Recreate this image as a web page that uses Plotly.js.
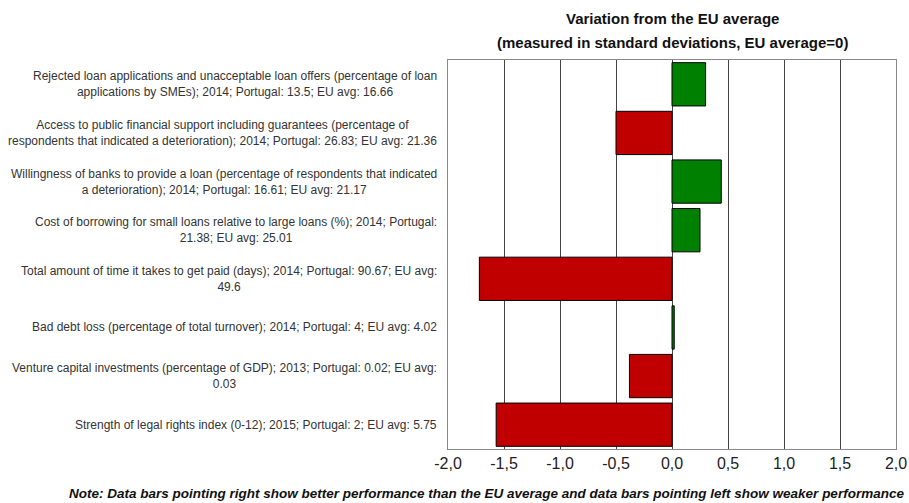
<!DOCTYPE html>
<html>
<head>
<meta charset="utf-8">
<script src="https://cdn.plot.ly/plotly-3.0.1.min.js"></script>
<style>html,body{margin:0;padding:0;background:#fff;}#chart{width:909px;height:503px;}</style>
</head>
<body>
<div id="chart"></div>
<script>
var categories = [
  "Rejected loan applications and unacceptable loan offers (percentage of loan<br>applications by SMEs); 2014; Portugal: 13.5; EU avg: 16.66",
  "Access to public financial support including guarantees (percentage of<br>respondents that indicated a deterioration); 2014; Portugal: 26.83; EU avg: 21.36",
  "Willingness of banks to provide a loan (percentage of respondents that indicated<br>a deterioration); 2014; Portugal: 16.61; EU avg: 21.17",
  "Cost of borrowing for small loans relative to large loans (%); 2014; Portugal:<br>21.38; EU avg: 25.01",
  "Total amount of time it takes to get paid (days); 2014; Portugal: 90.67; EU avg:<br>49.6",
  "Bad debt loss (percentage of total turnover); 2014; Portugal: 4; EU avg: 4.02",
  "Venture capital investments (percentage of GDP); 2013; Portugal: 0.02; EU avg:<br>0.03",
  "Strength of legal rights index (0-12); 2015; Portugal: 2; EU avg: 5.75"
];
var values = [0.30, -0.50, 0.44, 0.25, -1.72, 0.02, -0.38, -1.57];
var tickValues = [-2, -1.5, -1, -0.5, 0, 0.5, 1, 1.5, 2];
var tickLabels = ["-2,0", "-1,5", "-1,0", "-0,5", "0,0", "0,5", "1,0", "1,5", "2,0"];
var titleLines = ["Variation from the EU average", "(measured in standard deviations, EU average=0)"];
var noteText = "Note: Data bars pointing right show better performance than the EU average and data bars pointing left show weaker performance";

var GREEN = "#008000", RED = "#C00000";
var colors = values.map(function(v){ return v >= 0 ? GREEN : RED; });
var yIdx = categories.map(function(c, i){ return i; });

var trace = {
  type: "bar",
  orientation: "h",
  x: values,
  y: yIdx,
  marker: {color: colors, line: {color: "#000", width: 1}},
  hoverinfo: "x"
};

var FONT = "Liberation Sans, Arial, sans-serif";
var annotations = categories.map(function(c, i){
  return {
    text: c, x: 0, xref: "paper", y: i, yref: "y",
    xanchor: "right", yanchor: "middle", align: "center", xshift: -9,
    showarrow: false,
    font: {family: FONT, size: 12, color: "#333"}
  };
});
annotations.push({
  text: "<b>" + titleLines[0] + "</b>", x: 0.5, xref: "paper", y: 1, yref: "paper",
  xanchor: "center", yanchor: "middle", yshift: 42, showarrow: false,
  font: {family: FONT, size: 15, color: "#111"}
});
annotations.push({
  text: "<b>" + titleLines[1] + "</b>", x: 0.5, xref: "paper", y: 1, yref: "paper",
  xanchor: "center", yanchor: "middle", yshift: 18, showarrow: false,
  font: {family: FONT, size: 15, color: "#111"}
});
annotations.push({
  text: "<b><i>" + noteText + "</i></b>",
  x: 1, xref: "paper", y: 0, yref: "paper", yshift: -44, xshift: 10,
  xanchor: "right", yanchor: "middle", showarrow: false,
  font: {family: FONT, size: 13.5, color: "#111"}
});

var layout = {
  width: 909, height: 503,
  margin: {l: 448, r: 13, t: 60, b: 54},
  paper_bgcolor: "#fff", plot_bgcolor: "#fff",
  showlegend: false,
  bargap: 0.11,
  xaxis: {
    range: [-2, 2],
    tickmode: "array",
    tickvals: tickValues,
    ticktext: tickLabels,
    showgrid: true, gridcolor: "#444", gridwidth: 1,
    zeroline: false,
    showline: true, mirror: true, linecolor: "#888", linewidth: 1,
    ticks: "",
    tickfont: {family: FONT, size: 16, color: "#222"},
    fixedrange: true
  },
  yaxis: {
    range: [7.5, -0.5],
    showticklabels: false,
    showgrid: false, zeroline: false,
    showline: true, mirror: true, linecolor: "#888", linewidth: 1,
    ticks: "",
    fixedrange: true
  },
  annotations: annotations
};

Plotly.newPlot("chart", [trace], layout, {displayModeBar: false, staticPlot: true});
</script>
</body>
</html>
